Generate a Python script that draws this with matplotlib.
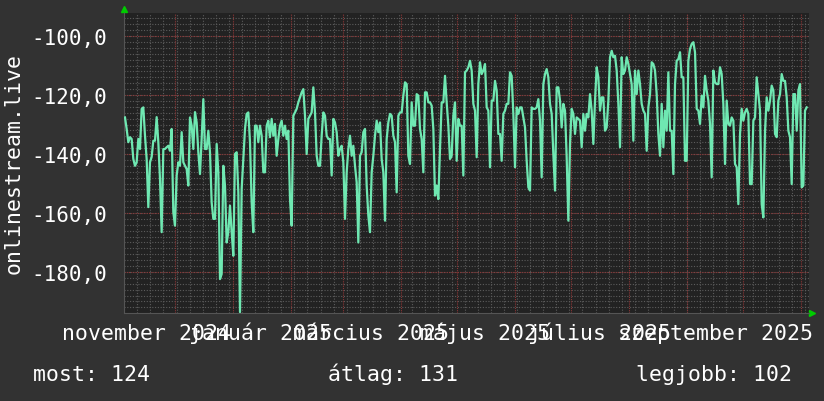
import numpy as np
import pandas as pd
import matplotlib
matplotlib.use('Agg')
import matplotlib.pyplot as plt
import matplotlib.dates as mdates
import matplotlib.transforms as mtransforms

plt.rcParams['font.family'] = ['DejaVu Sans Mono', 'DejaVu Sans']

# napi értékek (dBm), a kép alapján leolvasva
seg1 = [-127.6, -131.5, -136, -134.3, -134.9, -141.7, -144, -142.8, -134.9, -138.3,
        -124.7, -124.2, -133.8, -141.7, -158, -142.8, -141, -135.5, -135.5, -127.5,
        -136, -148.5, -166.5, -138.3, -138.3, -137.7, -137.2, -138.9, -131.5, -159.7,
        -164.3, -147.3, -142.8, -144, -132.6, -142.8, -144, -145.1, -150.7, -127.6,
        -130.4, -138.3, -125.8, -129.3, -139.4, -146.8, -134.9, -121.4, -138.3, -138.3,
        -132.1, -139.4, -156.4, -162, -162, -136.6, -146.2, -182.4, -180.7, -144,
        -150.7, -170, -166.5, -157.5, -166.5, -174.5, -140, -139.4, -153, -193.6,
        -151.9, -141.7, -131.5, -126.4, -125.9, -136, -156.4, -166.5, -130.4, -130.4,
        -136, -130.4, -133.8, -146.2, -146.2, -130.4, -128.7, -134.3, -128.1, -133.8,
        -129.8, -140.6, -134.9, -130.4, -128.7, -133.8, -130.4, -134.9, -132.1, -155.3,
        -164.3, -127]
seg2 = [-125.9, -124.7, -122.5, -120.8, -119.1, -118, -127, -140, -128.1, -127,
        -125.9, -117.4, -125.9, -140.6, -144, -144, -133.8, -125.9, -127, -133.8,
        -134.9, -134.9, -147.3, -128.1, -129.3, -132.6, -140.6, -138.3, -137.2, -142.8,
        -162, -146.2, -138.3, -133.8, -140.6, -137.2, -144, -149.6, -170, -140.6,
        -139.4, -132.6, -131.5, -150.7, -160.9, -166.5, -146.2, -140.6, -133.8, -128.7,
        -132.6, -129.3, -141.7, -146.2, -162.6, -134.9, -129.3, -126.4, -127, -133.8,
        -136, -153, -127, -125.9, -125.9, -120.2, -115.7, -116.3, -140.6, -143.4,
        -122.5, -130.4, -130.4, -119.7, -120.2, -131.5, -134.9, -146.2, -119.1, -119.1,
        -122.5, -122.5, -123.6, -131.5, -154.1, -150.7, -155.3, -138.3, -122.5, -122.5,
        -113.5, -122.5, -130.4, -141.7, -140.6, -127, -122.5, -142.3, -128.1, -130.4,
        -130.4, -147.3]
seg3 = [-112.3, -111.7, -110.6, -108.4, -111.7, -123, -125.3, -141.1, -116.3, -108.9,
        -112.9, -111.7, -109.5, -124.2, -125.3, -144.5, -121.9, -121.9, -115.2, -118.5,
        -133.2, -133.2, -142.3, -126.4, -125.3, -123, -123, -112.3, -113.5, -126.4,
        -144.5, -124.2, -126.4, -124.2, -124.2, -127.6, -131, -142.3, -151.3, -152.4,
        -124.2, -124.7, -124.7, -124.2, -121.4, -128.7, -147.9, -116.3, -112.9, -111.2,
        -114, -123, -126.4, -140, -152.4, -117.4, -117.4, -121.9, -131, -123,
        -125.3, -141.1, -162.6, -136.6, -124.7, -126.4, -133.2, -127.6, -128.1, -128.7,
        -137.7, -126.4, -132.1, -126.4, -127.6, -119.7, -125.3, -136.6, -121.9, -110.6,
        -114, -125.3, -120.8, -120.8, -132.1, -131, -121.9, -107.2, -105, -107.2,
        -106.7, -111.7, -123, -137.7, -107.2, -112.9, -111.7, -107.2, -109.5, -112.9,
        -116.3, -135.5]
seg4 = [-111.7, -119.7, -111.7, -116.3, -123, -125.3, -126.4, -138.9, -124.2, -119.7,
        -108.9, -109.5, -111.7, -119.7, -133.2, -140.6, -123, -137.7, -125.3, -132.1,
        -112.3, -132.1, -132.1, -146.8, -116.3, -108.4, -107.8, -105.5, -114, -114,
        -142.3, -142.3, -108.4, -104.4, -102.7, -102.1, -105.5, -124.7, -125.3, -129.8,
        -120.2, -124.2, -113.5, -118.5, -121.9, -129.8, -147.9, -111.7, -115.7, -116.3,
        -116.3, -110.6, -112.9, -123, -143.4, -121.9, -129.8, -130.4, -127.6, -128.7,
        -143.4, -144.5, -157, -133.2, -124.7, -128.7, -125.9, -124.7, -126.4, -150.2,
        -150.2, -128.7, -127.6, -114, -119.7, -125.3, -157, -161.5, -132.1, -120.8,
        -125.3, -121.9, -116.8, -118.5, -133.2, -134.3, -121.9, -119.7, -112.9, -115.2,
        -115.2, -120.8, -132.1, -134.3, -150.2, -119.7, -119.7, -132.1, -118.5, -116.3,
        -151.3, -150.7, -125.3, -124.2]

month_labels = ['november 2024', 'január 2025', 'március 2025',
                'május 2025', 'július 2025', 'szeptember 2025']
month_label_dates = ['2024-11-16', '2025-01-16', '2025-03-16',
                     '2025-05-16', '2025-07-16', '2025-09-16']
y_ticks = [-180, -160, -140, -120, -100]
legend_texts = ['most: 124', 'átlag: 131', 'legjobb: 102']

values = np.array(seg1 + seg2 + seg3 + seg4)
t0 = mdates.date2num(pd.Timestamp('2024-11-04 10:20'))
t1 = mdates.date2num(pd.Timestamp('2025-11-03 21:20'))
t = np.linspace(t0, t1, len(values))

W, H = 824, 402
fig = plt.figure(figsize=(W / 100, H / 100), dpi=100, facecolor='#323232')
ax = fig.add_axes([124 / W, (H - 314) / H, 685 / W, 300 / H])
ax.set_facecolor('#222222')
ax.set_xlim(mdates.date2num(pd.Timestamp('2024-11-03 21:40')),
            mdates.date2num(pd.Timestamp('2025-11-05 03:00')))
ax.set_ylim(-193.9, -92.2)

# segédrács
for d in pd.date_range('2024-11-04', '2025-11-05', freq='W-MON'):
    ax.axvline(mdates.date2num(d), color='#5c5c5c', lw=0.8, ls=(0, (1, 1.5)), zorder=1)
for y in np.arange(-192, -92, 2):
    ax.axhline(y, color='#5c5c5c', lw=0.8, ls=(0, (1, 1.5)), zorder=1)
# fő rács
for d in pd.date_range('2024-12-01', '2025-11-01', freq='MS'):
    ax.axvline(mdates.date2num(d), color='#8c3636', lw=0.8, ls=(0, (1, 1)), zorder=2)
for y in y_ticks:
    ax.axhline(y, color='#8c3636', lw=0.8, ls=(0, (1, 1)), zorder=2)

ax.plot(t, values, color='#6fe8b2', lw=1.6, zorder=3)

for s in ['top', 'right']:
    ax.spines[s].set_visible(False)
for s in ['left', 'bottom']:
    ax.spines[s].set_color('#555555')
    ax.spines[s].set_linewidth(0.8)

ax.set_yticks(y_ticks)
ax.set_yticklabels([('%.1f' % v).replace('.', ',') for v in y_ticks])
ax.tick_params(axis='y', length=0, pad=12, labelcolor='white', labelsize=15)
ax.set_xticks([])

trans = mtransforms.blended_transform_factory(ax.transData, fig.transFigure)
for lab, d in zip(month_labels, month_label_dates):
    ax.text(mdates.date2num(pd.Timestamp(d)), 1 - 340 / H, lab, transform=trans,
            ha='center', va='baseline', color='white', fontsize=15.5)

fig.text(14 / W, 1 - 164 / H, 'onlinestream.live', rotation=90, ha='center',
         va='center', color='white', fontsize=15.5)

for lab, x in zip(legend_texts, [33, 328, 636]):
    fig.text(x / W, 1 - 381 / H, lab, ha='left', va='baseline', color='white', fontsize=15.5)

ax.plot([0], [1 + 4 / 300], marker='^', color='#00cc00', markersize=5,
        transform=ax.transAxes, clip_on=False)
ax.plot([1 + 3 / 685], [0], marker='>', color='#00cc00', markersize=5,
        transform=ax.transAxes, clip_on=False)

plt.savefig('out.png', dpi=100, facecolor=fig.get_facecolor())
